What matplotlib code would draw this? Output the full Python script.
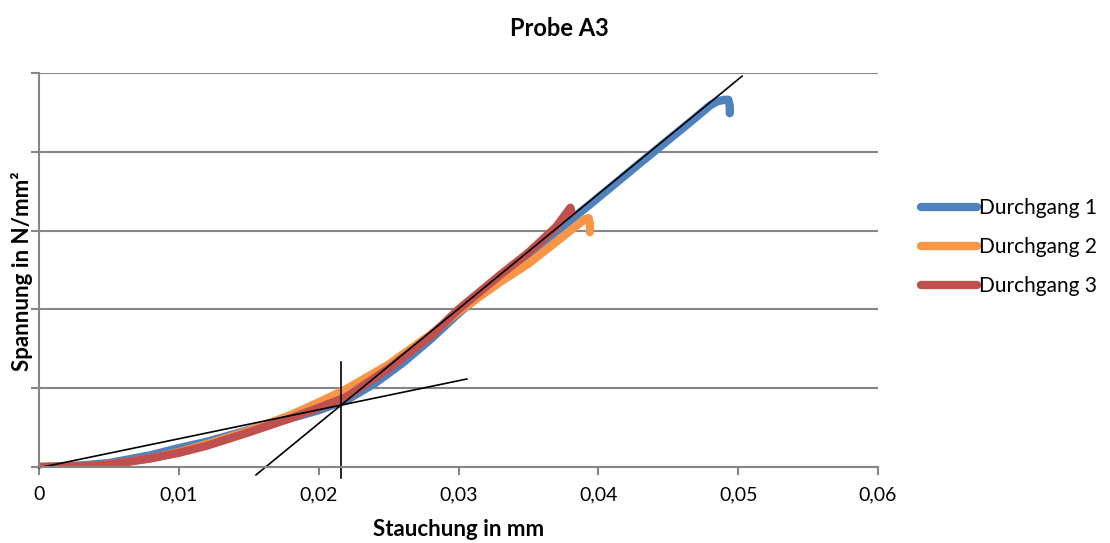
import matplotlib
matplotlib.use("Agg")
import matplotlib.pyplot as plt

plt.rcParams['font.family'] = ['Lato', 'DejaVu Sans']

# Durchgang 1
x1 = [0, 0.003, 0.005, 0.008, 0.010, 0.012, 0.015, 0.018, 0.020, 0.022, 0.024, 0.026, 0.028, 0.030,
      0.033, 0.035, 0.038, 0.040, 0.043, 0.045, 0.047, 0.048, 0.0485, 0.0490, 0.0493, 0.0494, 0.0494]
y1 = [0, 0.02, 0.05, 0.15, 0.24, 0.32, 0.47, 0.62, 0.72, 0.85, 1.06, 1.32, 1.62, 1.95,
      2.40, 2.69, 3.13, 3.42, 3.86, 4.15, 4.44, 4.59, 4.64, 4.66, 4.66, 4.58, 4.49]
# Durchgang 2
x2 = [0, 0.003, 0.005, 0.008, 0.010, 0.012, 0.015, 0.018, 0.020, 0.022, 0.025, 0.028, 0.030,
      0.033, 0.035, 0.038, 0.039, 0.0393, 0.0394, 0.0394]
y2 = [0, 0.01, 0.03, 0.11, 0.19, 0.29, 0.46, 0.66, 0.82, 0.99, 1.30, 1.68, 1.97,
      2.35, 2.58, 3.00, 3.14, 3.16, 3.08, 2.98]
# Durchgang 3
x3 = [0, 0.003, 0.005, 0.008, 0.010, 0.012, 0.015, 0.018, 0.020, 0.022, 0.025, 0.028, 0.030,
      0.033, 0.035, 0.037, 0.038, 0.0381]
y3 = [0, 0.01, 0.03, 0.11, 0.18, 0.27, 0.44, 0.62, 0.75, 0.89, 1.25, 1.66, 2.00,
      2.44, 2.72, 3.05, 3.29, 3.22]

# tangent construction lines
steep_x = [0.01552, 0.05028]
steep_y = [-0.10, 4.96]
flat_x = [0.0, 0.0306]
flat_y = [-0.01, 1.117]
vert_x = [0.0216, 0.0216]
vert_y = [-0.14, 1.33]

fig = plt.figure(figsize=(11.1, 5.43), dpi=100)
ax = fig.add_axes([39/1110, 1-467/543, (878-39)/1110, (467-73)/543])

ax.plot(x1, y1, color='#4f81bd', lw=6, solid_capstyle='round', solid_joinstyle='round', label='Durchgang 1')
ax.plot(x2, y2, color='#f79646', lw=6, solid_capstyle='round', solid_joinstyle='round', label='Durchgang 2')
ax.plot(x3, y3, color='#c0504d', lw=6, solid_capstyle='round', solid_joinstyle='round', label='Durchgang 3')

for lx, ly in ((steep_x, steep_y), (flat_x, flat_y), (vert_x, vert_y)):
    ax.plot(lx, ly, color='black', lw=1.2, clip_on=False)

ax.set_xlim(0, 0.06)
ax.set_ylim(0, 5)
ax.set_xticks([0, 0.01, 0.02, 0.03, 0.04, 0.05, 0.06])
ax.set_xticklabels(['0', '0,01', '0,02', '0,03', '0,04', '0,05', '0,06'], fontsize=14)
ax.set_yticks([0, 1, 2, 3, 4, 5])
ax.set_yticklabels([])
ax.grid(axis='y', color='#868686', lw=1.5)
ax.set_axisbelow(True)
for s in ('top', 'right'):
    ax.spines[s].set_visible(False)
for s in ('left', 'bottom'):
    ax.spines[s].set_color('#868686')
    ax.spines[s].set_linewidth(1.5)
ax.tick_params(axis='both', color='#868686', width=1.5, length=6, direction='out')
ax.tick_params(axis='x', pad=8)

fig.text(459/1110, 1-530/543, 'Stauchung in mm', fontsize=16, fontweight='bold', ha='center', va='center')
fig.text(22/1110, 1-271/543, 'Spannung in N/mm²', fontsize=16, fontweight='bold',
         rotation=90, ha='center', va='center')
fig.text(559/1110, 1-28/543, 'Probe A3', fontsize=17, fontweight='bold', ha='center', va='center')

fig.legend(loc='center left', bbox_to_anchor=(921/1110, 1-247/543), frameon=False, borderpad=0,
           borderaxespad=0, fontsize=15, handlelength=2.7, handletextpad=0.1, labelspacing=0.92)

fig.savefig('out.png', dpi=100)
